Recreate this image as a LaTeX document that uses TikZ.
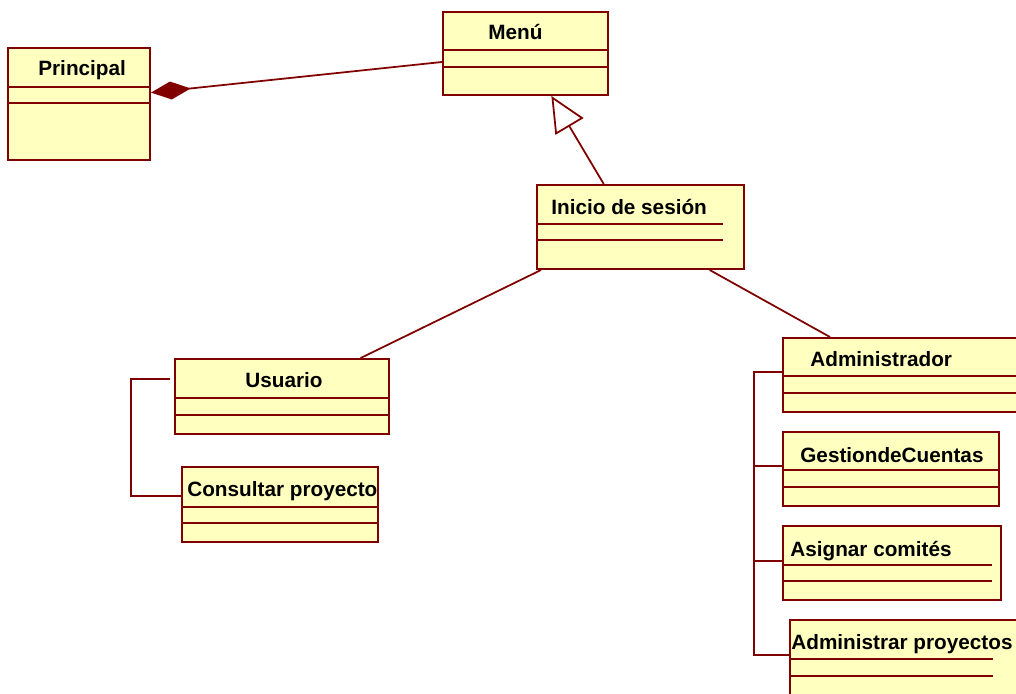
\documentclass[tikz,border=0pt]{standalone}
\usepackage{fontspec}
\setmainfont{Liberation Sans}
\usepackage{tikz}
\usetikzlibrary{arrows.meta,positioning,calc,fit}

\definecolor{umlred}{HTML}{800000}
\definecolor{umlfill}{HTML}{FFFFC0}

\begin{document}
\begin{tikzpicture}[x=0.02cm, y=-0.02cm,
    cls/.style={draw=umlred, fill=umlfill, line width=1.1pt, inner sep=0pt},
    ttl/.style={anchor=base west, inner sep=0pt, font=\bfseries\fontsize{11.8}{14}\selectfont},
    cmp/.style={draw=umlred, line width=1pt},
    lnk/.style={draw=umlred, line width=1pt}
]
\useasboundingbox (0,0) rectangle (1016,693);

% clases
\node[cls, fit={(8,48) (150,160)}] (principal) {};
\node[cls, fit={(443,12) (608,95)}] (menu) {};
\node[cls, fit={(537,185) (744,269)}] (inicio) {};
\node[cls, fit={(175,359) (389,434)}] (usuario) {};
\node[cls, fit={(182,467) (378,542)}] (consultar) {};
\node[cls, fit={(783,338) (1030,412)}] (admin) {};
\node[cls, fit={(783,432) (999,506)}] (gestion) {};
\node[cls, fit={(783,526) (1001,600)}] (asignar) {};
\node[cls, fit={(790,620) (1030,710)}] (admproy) {};

% nombres
\node[ttl] (tprincipal) at (38,75) {Principal};
\node[ttl] (tmenu) at (488,39) {Menú};
\node[ttl] (tinicio) at (551,214) {Inicio de sesión};
\node[ttl] (tusuario) at (245,387) {Usuario};
\node[ttl] (tconsultar) at (187,496) {Consultar proyecto};
\node[ttl] (tadmin) at (810,366) {Administrador};
\node[ttl] (tgestion) at (800,462) {GestiondeCuentas};
\node[ttl] (tasignar) at (790,556) {Asignar comités};
\node[ttl] (tadmproy) at (791,649) {Administrar proyectos};

% compartimentos
\foreach \n/\a/\b/\w in {principal/40/56/144, menu/39/56/167, inicio/40/56/187,
    usuario/40/57/216, consultar/41/57/198, admin/39/56/250,
    gestion/39/56/218, asignar/40/56/210, admproy/40/57/204} {
  \draw[cmp] ($(\n.north west)+(0,\a)$) -- +(\w,0);
  \draw[cmp] ($(\n.north west)+(0,\b)$) -- +(\w,0);
}

% relaciones
\draw[lnk, {Diamond[length=0.8cm, width=0.36cm, fill=umlred]}-]
  ($(principal.north east)!0.4!(principal.south east)$) -- ($(menu.north west)!0.6!(menu.south west)$);
\draw[lnk, -{Triangle[open, length=0.71cm, width=0.65cm, fill=white]}]
  ($(inicio.north west)!0.324!(inicio.north east)$) -- ($(menu.south west)!0.655!(menu.south east)$);
\draw[lnk] ($(inicio.south west)!0.024!(inicio.south east)$) -- ($(usuario.north west)!0.864!(usuario.north east)$);
\draw[lnk] ($(inicio.south west)!0.831!(inicio.south east)$) -- ($(admin.north west)+(48,0)$);

\draw[lnk] ($(usuario.north west)+(-4,21)$) -- ++(-39,0) |- ($(consultar.north west)+(0,30)$);
\draw[lnk] ($(admin.north west)+(0,35)$) -- ++(-28,0) |- ($(admproy.north west)+(0,36)$);
\draw[lnk] ($(gestion.north west)+(0,35)$) -- +(-28,0);
\draw[lnk] ($(asignar.north west)+(0,36)$) -- +(-28,0);
\end{tikzpicture}
\end{document}
